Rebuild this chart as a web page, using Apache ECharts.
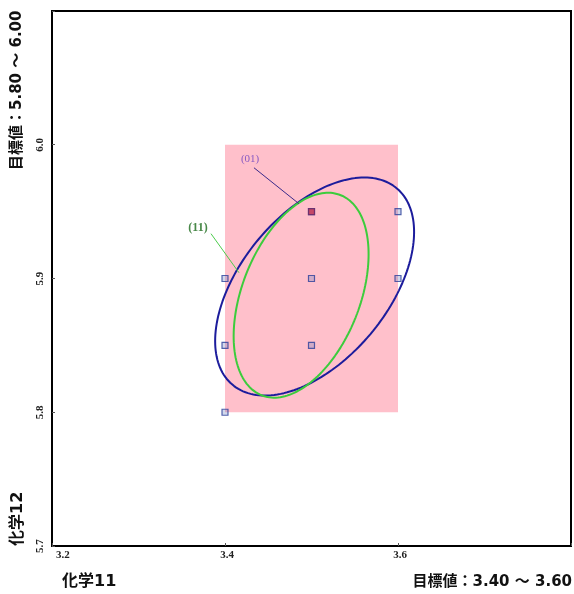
<!DOCTYPE html>
<html><head><meta charset="utf-8">
<script src="https://cdn.jsdelivr.net/npm/echarts@6/dist/echarts.min.js"></script>
<style>html,body{margin:0;padding:0;background:#fff}#c{width:574px;height:594px}</style>
</head><body><div id="c"></div>
<script>
// ---- data ----
const xTickLabels = ['3.2', '3.4', '3.6'];
const yTickLabels = ['5.7', '5.8', '5.9', '6.0'];
const targetX = [3.40, 3.60];
const targetY = [5.80, 6.00];
const pointsX = [3.4, 3.4, 3.4, 3.5, 3.5, 3.5, 3.6, 3.6];
const pointsY = [5.9, 5.85, 5.8, 5.95, 5.9, 5.85, 5.95, 5.9];
const highlightPoint = [3.5, 5.95];
// ellipse parameters: [centerX, centerY, sdX, sdY, correlation]
const ellipse01 = [3.5036, 5.894, 0.1150, 0.0815, 0.50];
const ellipse11 = [3.4880, 5.8875, 0.0780, 0.0766, 0.40];
const label01 = '(01)';
const label11 = '(11)';
const xTitleLeft = '化学11';
const xTitleRight = '目標値：3.40 ～ 3.60';
const yTitleTop = '目標値：5.80 ～ 6.00';
const yTitleBottom = '化学12';
// annotation anchors (data coords): text, leader start, leader end
const anno01 = [[3.429, 5.9895], [3.4335, 5.9828], [3.4855, 5.9559]];
const anno11 = [[3.3688, 5.938], [3.3838, 5.9335], [3.4162, 5.9043]];

function ellipsePts(p) {
  const [cx, cy, sx, sy, r] = p;
  const out = [];
  const k = Math.sqrt(1 - r * r);
  for (let d = 0; d <= 360; d += 2) {
    const t = d * Math.PI / 180;
    out.push([cx + sx * Math.cos(t), cy + sy * (r * Math.cos(t) + k * Math.sin(t))]);
  }
  return out;
}

const chart = echarts.init(document.getElementById('c'));
const tickFont = {fontFamily: 'Liberation Serif', fontWeight: 'bold', fontSize: 11, color: '#222'};
const titleFont = {fontFamily: '"DejaVu Sans", "Noto Sans CJK JP"', fontWeight: 'bold', fontSize: 15, fill: '#111'};

chart.setOption({
  animation: false,
  backgroundColor: '#fff',
  grid: {left: 52, right: 3, top: 11, bottom: 48, show: true, borderColor: '#000', borderWidth: 2},
  xAxis: {
    type: 'value', min: 3.2, max: 3.8, interval: 0.2,
    axisLine: {show: true, lineStyle: {color: '#000', width: 2}},
    axisTick: {show: true, inside: true, length: 3, lineStyle: {color: '#555'}},
    splitLine: {show: false},
    axisLabel: Object.assign({margin: 4, alignMinLabel: 'left', padding: [0, 0, 0, 4], formatter: v => {
      const s = v.toFixed(1); return xTickLabels.includes(s) ? s : '';
    }}, tickFont)
  },
  yAxis: {
    type: 'value', min: 5.7, max: 6.1, interval: 0.1,
    axisLine: {show: true, lineStyle: {color: '#000', width: 2}},
    axisTick: {show: true, inside: true, length: 3, lineStyle: {color: '#555'}},
    splitLine: {show: false},
    axisLabel: Object.assign({margin: 6, rotate: 90, formatter: v => {
      const s = v.toFixed(1); return yTickLabels.includes(s) ? s : '';
    }}, tickFont)
  },
  series: [
    {
      type: 'line', data: [], silent: true,
      markArea: {silent: true, itemStyle: {color: '#ffc0cb'},
        data: [[{coord: [targetX[0], targetY[0]]}, {coord: [targetX[1], targetY[1]]}]]}
    },
    {
      type: 'line', data: ellipsePts(ellipse01), showSymbol: false, silent: true,
      lineStyle: {color: '#1c1c9c', width: 2}, z: 3
    },
    {
      type: 'line', data: ellipsePts(ellipse11), showSymbol: false, silent: true,
      lineStyle: {color: '#3ccc3c', width: 2}, z: 3
    },
    {
      type: 'scatter', data: pointsX.map((x, i) => [x, pointsY[i]]),
      symbol: 'rect', symbolSize: 6, z: 4,
      itemStyle: {color: 'rgba(90,120,190,0.35)', borderColor: '#2a3f9a', borderWidth: 1.2}
    },
    {
      type: 'scatter', data: [highlightPoint], symbol: 'rect', symbolSize: 6, z: 5,
      itemStyle: {color: '#c03050', borderColor: '#6a2a6a', borderWidth: 1.2}
    },
    {
      type: 'line', data: [anno01[1], anno01[2]], showSymbol: false, silent: true,
      lineStyle: {color: '#3a2a8a', width: 1}, z: 4
    },
    {
      type: 'line', data: [anno11[1], anno11[2]], showSymbol: false, silent: true,
      lineStyle: {color: '#4ccc4c', width: 1}, z: 4
    },
    {
      type: 'scatter', symbolSize: 0, silent: true, z: 6,
      data: [
        {value: anno01[0], label: {show: true, position: 'inside', formatter: label01,
          fontFamily: 'Liberation Serif', fontSize: 11, color: '#6a40c0'}},
        {value: anno11[0], label: {show: true, position: 'inside', formatter: label11,
          fontFamily: 'Liberation Serif', fontWeight: 'bold', fontSize: 12, color: '#1a6a1a'}}
      ]
    }
  ],
  graphic: [
    {type: 'text', left: 62, top: 574, style: Object.assign({text: xTitleLeft}, titleFont, {fontSize: 16})},
    {type: 'text', right: 2, top: 575, style: Object.assign({text: xTitleRight}, titleFont)},
    {type: 'text', x: 10, y: 170, rotation: Math.PI / 2, style: Object.assign({text: yTitleTop, textAlign: 'left', textVerticalAlign: 'top'}, titleFont)},
    {type: 'text', x: 10, y: 546, rotation: Math.PI / 2, style: Object.assign({text: yTitleBottom, textAlign: 'left', textVerticalAlign: 'top'}, titleFont, {fontSize: 16})}
  ]
});
</script></body></html>
